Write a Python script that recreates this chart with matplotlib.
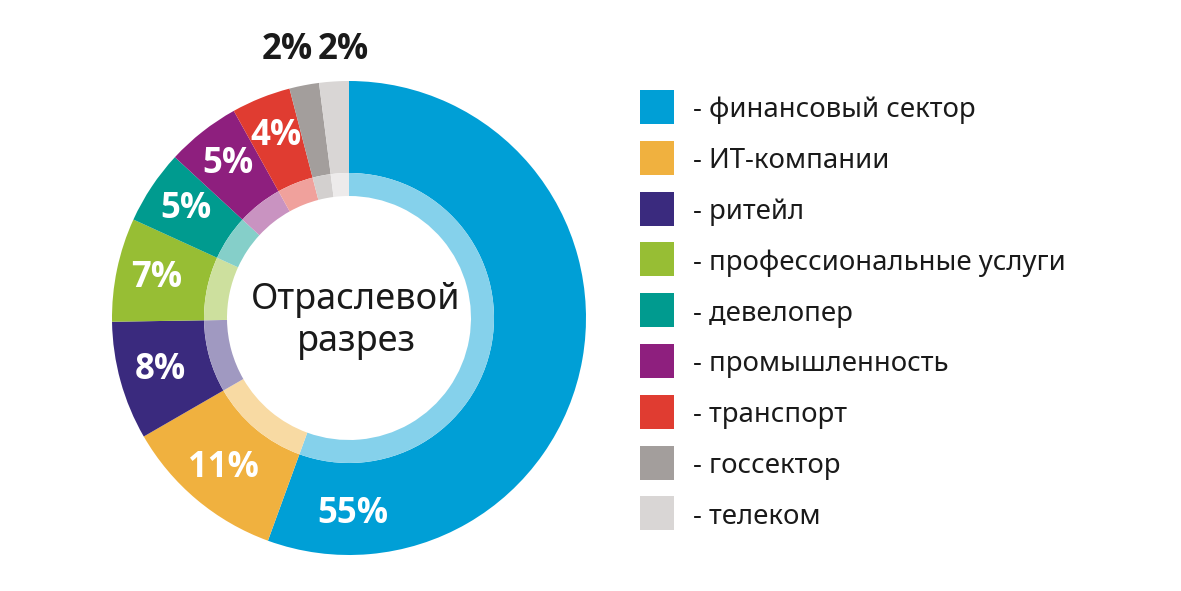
import matplotlib
matplotlib.use("Agg")
import matplotlib.pyplot as plt
import matplotlib.colors as mcolors
import numpy as np

plt.rcParams['font.family'] = ['Noto Sans', 'DejaVu Sans']

# data
sectors = ['финансовый сектор', 'ИТ-компании', 'ритейл', 'профессиональные услуги',
           'девелопер', 'промышленность', 'транспорт', 'госсектор', 'телеком']
shares = [55, 11, 8, 7, 5, 5, 4, 2, 2]
pct_labels = ['55%', '11%', '8%', '7%', '5%', '5%', '4%', '2%', '2%']
colors = ['#009fd6', '#f0b13f', '#3a2a7e', '#97be34', '#009b8f',
          '#8e1f7e', '#e03c31', '#a39e9c', '#d9d6d5']

W, H = 1181, 591
fig = plt.figure(figsize=(W / 100, H / 100), dpi=100)
ax = fig.add_axes([0, 0, 1, 1])

cx, cy = 349, H - 318
R = 237
R_mid = 145
R_in = 122

bold_font = dict(family=['Open Sans', 'Roboto', 'DejaVu Sans'], fontweight='bold', fontsize=25)


def lighten(c, amt):
    rgb = np.array(mcolors.to_rgb(c))
    return tuple(rgb + (1 - rgb) * amt)


# outer ring
wedges, _ = ax.pie(shares, colors=colors, startangle=90, counterclock=False,
                   center=(cx, cy), radius=R, frame=True,
                   wedgeprops=dict(width=R - R_mid, linewidth=0))
# light inner ring
inner_colors = [lighten(c, 0.52) for c in colors]
ax.pie(shares, colors=inner_colors, startangle=90, counterclock=False,
       center=(cx, cy), radius=R_mid, frame=True,
       wedgeprops=dict(width=R_mid - R_in, linewidth=0))
ax.set_xlim(0, W)
ax.set_ylim(0, H)
ax.set_aspect('equal')
ax.axis('off')

# percent labels inside the ring
r_lab = 196
for i, (w, lab) in enumerate(zip(wedges, pct_labels)):
    if i >= 7:
        continue
    ang = np.deg2rad((w.theta1 + w.theta2) / 2)
    if i == 0:
        ang = np.deg2rad(-89)   # big slice label sits at the bottom
    x = cx + r_lab * np.cos(ang)
    y = cy + r_lab * np.sin(ang)
    ax.text(x, y, lab, color='white', ha='center', va='center', **bold_font)

# two small slices labelled above the ring
ax.text(cx - 62, cy + 268, pct_labels[7], color='#1a1a1a',
        ha='center', va='center', **bold_font)
ax.text(cx - 6, cy + 268, pct_labels[8], color='#1a1a1a',
        ha='center', va='center', **bold_font)

# center caption
ax.text(cx + 7, H - 321, 'Отраслевой\nразрез', fontsize=26, color='#1a1a1a',
        ha='center', va='center', linespacing=1.25)

# legend
lx, ly0, step, sq = 640, H - 107, 50.8, 34
for i, (name, c) in enumerate(zip(sectors, colors)):
    y = ly0 - i * step
    ax.add_patch(plt.Rectangle((lx, y - sq / 2), sq, sq, color=c, lw=0))
    ax.text(lx + 53, y, '- ' + name, fontsize=19.8, color='#1a1a1a',
            ha='left', va='center_baseline')

fig.savefig('out.png', dpi=100, facecolor='white')
